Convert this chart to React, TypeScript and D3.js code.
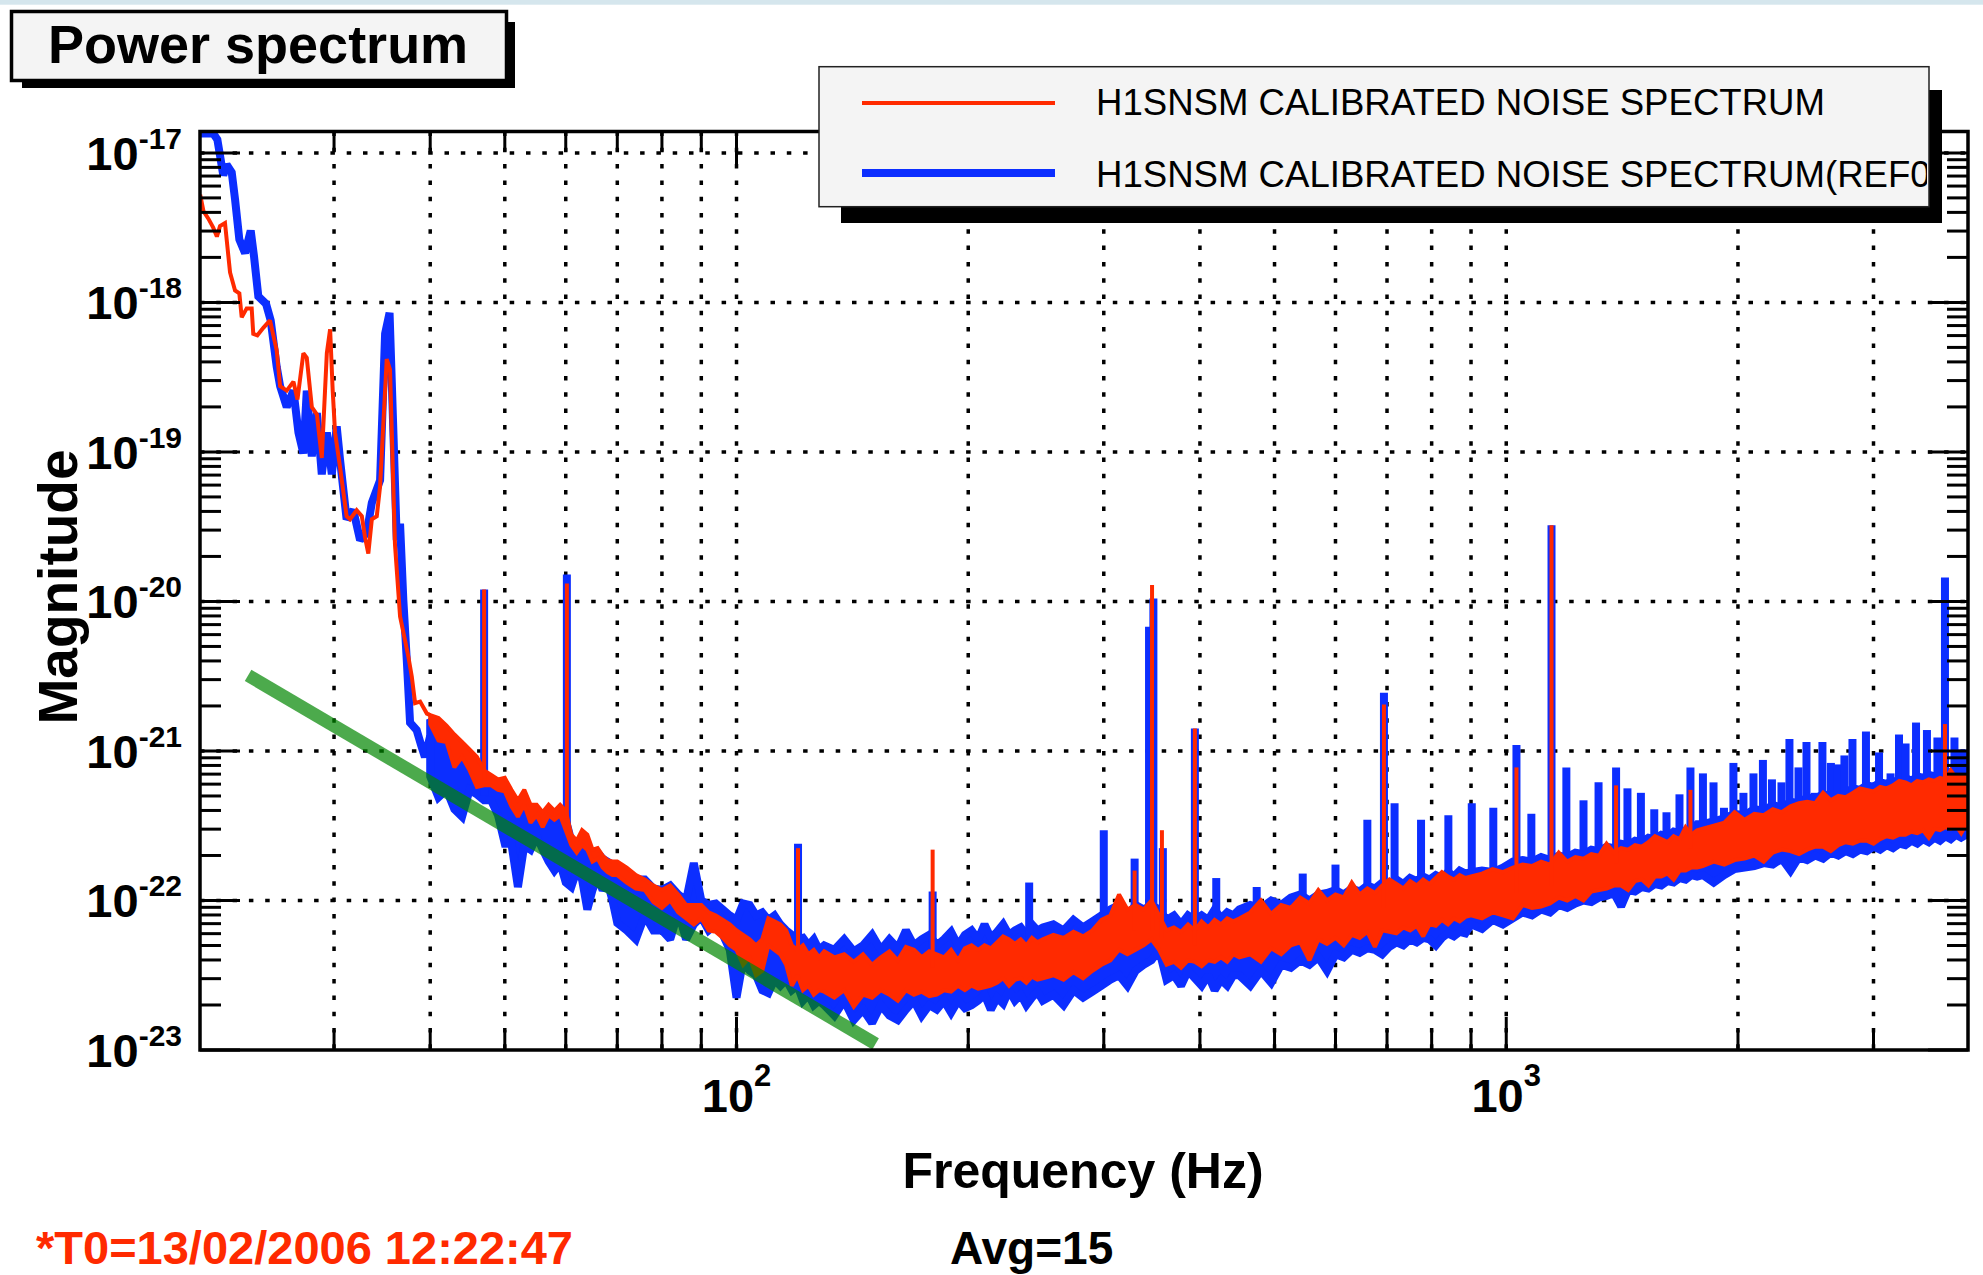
import React from "react";
import * as d3 from "d3";

// ---------------- data (magnitudes stored as log10 values) ----------------
const lowRedHz = [20.1,20.3,20.6,20.9,21.13,21.33,21.65,21.98,22.31,22.6,22.76,23.1,23.45,23.56,23.85,24.28,24.77,25.27,25.53,26.04,26.57,26.89,27.37,27.65,28.07,28.5,28.92,29.36,29.65,29.88,30.09,30.54,31.15,31.47,32.1,32.6,32.91,33.24,33.59,34.09,34.43,35.12,35.47,36.0,36.55,37.1,37.47,37.85,38.23,38.81,39.6,40.0];
const lowRedLog = [-17.28,-17.39,-17.44,-17.50,-17.56,-17.49,-17.47,-17.80,-17.92,-17.94,-18.10,-18.04,-18.04,-18.21,-18.22,-18.17,-18.12,-18.32,-18.56,-18.59,-18.53,-18.65,-18.34,-18.37,-18.70,-18.75,-19.04,-18.34,-18.18,-18.59,-18.87,-19.10,-19.43,-19.45,-19.39,-19.43,-19.57,-19.68,-19.45,-19.43,-19.23,-18.38,-18.45,-19.62,-20.10,-20.26,-20.37,-20.50,-20.68,-20.67,-20.75,-20.76];

const lowBlueHz = [20.1,20.9,21.16,21.54,21.76,22.09,22.31,22.6,22.99,23.38,23.61,23.92,24.48,24.82,25.27,25.53,26.04,26.57,26.97,27.37,27.65,28.07,28.5,28.92,29.36,29.8,30.24,30.54,31.15,31.78,32.43,33.09,33.59,34.43,34.95,35.42,35.83,36.19,36.55,36.91,37.29,37.66,38.41,38.92,39.37,40.0];
const lowBlueLog = [-16.87,-16.87,-16.91,-17.15,-17.08,-17.13,-17.31,-17.58,-17.67,-17.52,-17.69,-17.96,-18.01,-18.12,-18.43,-18.56,-18.70,-18.59,-18.87,-19.01,-18.59,-19.03,-18.74,-19.15,-18.87,-19.15,-18.83,-19.05,-19.45,-19.39,-19.59,-19.54,-19.34,-19.19,-18.21,-18.07,-18.87,-19.59,-19.48,-19.99,-20.39,-20.81,-20.86,-20.96,-21.04,-20.90];

const bandHz = [
  40,41,42,43,44,45,46,47,48,49,50,51,52,53,54,55,56,57,58,59,60,61,62,63,64,65,66,67,68,69,
  70,72,74,76,78,80,82,84,86,88,90,92,94,96,98,100,102,104,106,108,110,112,114,116,118,120,122,124,126,128,
  130,134,138,142,146,150,154,158,162,166,170,174,178,182,186,190,194,198,202,206,210,214,218,222,226,230,234,238,242,246,
  250,258,266,274,282,290,298,306,314,322,330,338,346,354,362,370,378,386,394,402,410,418,426,434,442,
  450,465,480,495,510,525,540,555,570,585,600,615,630,645,660,675,690,705,720,735,750,765,780,795,810,825,840,855,870,885,
  900,930,960,990,1020,1050,1080,1110,1140,1170,1200,1230,1260,1290,1320,1350,1380,1410,1440,1470,1500,1530,1560,1590,1620,1650,1680,1710,1740,1770,
  1800,1860,1920,1980,2040,2100,2160,2220,2280,2340,2400,2460,2520,2580,2640,2700,2760,2820,2880,2940,3000,3060,3120,3180,3240,3300,3360,3420,3480,3540,3600,3660,3720,3780,3840,3900,3960,3980
];

const redHiLog = [
  -20.76,-20.78,-20.83,-20.89,-20.94,-20.99,-21.04,-21.13,-21.16,-21.19,-21.18,-21.26,-21.33,-21.26,-21.36,-21.36,-21.41,-21.36,-21.40,-21.36,-21.40,-21.56,-21.60,-21.53,-21.56,-21.66,-21.65,-21.70,-21.73,-21.74,
  -21.74,-21.78,-21.83,-21.86,-21.90,-21.93,-21.90,-21.96,-22.03,-22.03,-22.03,-22.08,-22.10,-22.13,-22.16,-22.20,-22.23,-22.26,-22.30,-22.26,-22.12,-22.14,-22.16,-22.20,-22.30,-22.33,-22.30,-22.36,-22.33,-22.38,
  -22.34,-22.38,-22.36,-22.41,-22.36,-22.43,-22.38,-22.34,-22.40,-22.31,-22.33,-22.38,-22.34,-22.36,-22.38,-22.33,-22.40,-22.32,-22.30,-22.33,-22.30,-22.32,-22.28,-22.24,-22.26,-22.29,-22.26,-22.30,-22.25,-22.28,
  -22.26,-22.23,-22.25,-22.21,-22.24,-22.20,-22.13,-22.10,-21.96,-22.06,-22.03,-22.06,-22.00,-22.10,-22.20,-22.18,-22.21,-22.16,-22.20,-22.14,-22.18,-22.13,-22.16,-22.12,-22.14,
  -22.12,-22.08,-22.00,-22.09,-22.03,-22.05,-21.98,-22.02,-21.93,-22.00,-21.96,-21.98,-21.88,-21.96,-21.92,-21.95,-21.90,-21.86,-21.89,-21.92,-21.87,-21.90,-21.86,-21.89,-21.85,-21.81,-21.84,-21.86,-21.83,-21.85,
  -21.84,-21.82,-21.79,-21.81,-21.78,-21.76,-21.77,-21.74,-21.76,-21.68,-21.74,-21.71,-21.72,-21.69,-21.70,-21.62,-21.68,-21.65,-21.66,-21.63,-21.64,-21.61,-21.57,-21.59,-21.61,-21.57,-21.59,-21.51,-21.56,-21.53,
  -21.52,-21.50,-21.48,-21.41,-21.46,-21.42,-21.43,-21.39,-21.41,-21.37,-21.35,-21.34,-21.35,-21.28,-21.33,-21.30,-21.31,-21.28,-21.25,-21.26,-21.27,-21.24,-21.25,-21.23,-21.20,-21.21,-21.23,-21.20,-21.21,-21.19,-21.20,-21.18,-21.19,-21.13,-21.18,-21.16,-21.17,-21.18
];
const redLoLog = [
  -20.82,-20.93,-20.94,-21.11,-21.04,-21.13,-21.24,-21.23,-21.23,-21.26,-21.27,-21.37,-21.44,-21.36,-21.48,-21.43,-21.51,-21.43,-21.46,-21.43,-21.53,-21.63,-21.68,-21.63,-21.66,-21.74,-21.72,-21.78,-21.81,-21.83,
  -21.83,-21.88,-21.92,-21.93,-22.01,-22.05,-22.00,-22.08,-22.12,-22.16,-22.12,-22.20,-22.21,-22.25,-22.30,-22.33,-22.43,-22.38,-22.50,-22.47,-22.30,-22.33,-22.36,-22.43,-22.57,-22.50,-22.60,-22.57,-22.63,-22.60,
  -22.61,-22.65,-22.60,-22.71,-22.63,-22.65,-22.60,-22.63,-22.67,-22.60,-22.63,-22.61,-22.64,-22.63,-22.60,-22.61,-22.57,-22.60,-22.57,-22.59,-22.58,-22.57,-22.55,-22.52,-22.57,-22.53,-22.52,-22.55,-22.51,-22.53,
  -22.52,-22.50,-22.53,-22.48,-22.52,-22.47,-22.43,-22.40,-22.33,-22.36,-22.33,-22.30,-22.26,-22.33,-22.43,-22.41,-22.45,-22.40,-22.41,-22.44,-22.40,-22.41,-22.38,-22.41,-22.36,
  -22.38,-22.36,-22.41,-22.32,-22.36,-22.30,-22.28,-22.40,-22.26,-22.29,-22.25,-22.30,-22.23,-22.25,-22.21,-22.31,-22.20,-22.21,-22.22,-22.18,-22.20,-22.17,-22.24,-22.16,-22.17,-22.13,-22.16,-22.12,-22.14,-22.11,
  -22.10,-22.12,-22.08,-22.10,-22.12,-22.03,-22.05,-22.04,-22.02,-21.98,-22.00,-21.97,-22.00,-21.94,-21.93,-21.92,-21.90,-21.90,-21.93,-21.87,-21.86,-21.90,-21.84,-21.84,-21.82,-21.86,-21.80,-21.80,-21.78,-21.78,
  -21.77,-21.74,-21.76,-21.73,-21.72,-21.70,-21.74,-21.68,-21.66,-21.67,-21.69,-21.66,-21.64,-21.64,-21.67,-21.63,-21.61,-21.62,-21.60,-21.60,-21.62,-21.59,-21.57,-21.58,-21.56,-21.56,-21.54,-21.55,-21.53,-21.58,-21.52,-21.53,-21.51,-21.52,-21.50,-21.55,-21.49,-21.50
];
const blueHiLog = [
  -20.79,-20.86,-20.89,-20.96,-20.99,-21.03,-21.09,-21.16,-21.19,-21.23,-21.26,-21.33,-21.40,-21.36,-21.43,-21.43,-21.46,-21.43,-21.46,-21.43,-21.46,-21.60,-21.63,-21.60,-21.63,-21.70,-21.68,-21.72,-21.74,-21.76,
  -21.78,-21.83,-21.86,-21.86,-21.92,-21.93,-21.90,-21.96,-22.00,-21.75,-22.00,-22.03,-22.02,-22.06,-22.10,-22.13,-22.02,-22.03,-22.10,-22.08,-22.13,-22.10,-22.16,-22.20,-22.23,-22.26,-22.25,-22.30,-22.26,-22.33,
  -22.30,-22.33,-22.26,-22.34,-22.30,-22.23,-22.33,-22.26,-22.32,-22.20,-22.30,-22.26,-22.23,-22.30,-22.26,-22.21,-22.30,-22.23,-22.20,-22.26,-22.16,-22.25,-22.21,-22.16,-22.23,-22.20,-22.18,-22.23,-22.16,-22.20,
  -22.18,-22.16,-22.20,-22.13,-22.18,-22.14,-22.10,-22.06,-22.03,-22.10,-22.03,-22.06,-22.03,-22.06,-22.13,-22.10,-22.16,-22.10,-22.13,-22.10,-22.13,-22.06,-22.12,-22.08,-22.10,
  -22.06,-22.03,-22.05,-22.00,-22.03,-21.98,-21.96,-22.00,-21.96,-21.95,-21.93,-21.96,-21.92,-21.94,-21.90,-21.92,-21.88,-21.90,-21.86,-21.89,-21.85,-21.87,-21.84,-21.86,-21.83,-21.85,-21.81,-21.84,-21.80,-21.82,
  -21.81,-21.80,-21.81,-21.78,-21.74,-21.73,-21.74,-21.71,-21.73,-21.70,-21.71,-21.68,-21.69,-21.66,-21.67,-21.64,-21.65,-21.62,-21.63,-21.60,-21.61,-21.58,-21.59,-21.56,-21.57,-21.54,-21.55,-21.53,-21.53,-21.49,
  -21.49,-21.47,-21.45,-21.42,-21.43,-21.39,-21.40,-21.36,-21.38,-21.34,-21.35,-21.31,-21.32,-21.29,-21.30,-21.27,-21.28,-21.25,-21.26,-21.23,-21.24,-21.21,-21.22,-21.20,-21.21,-21.18,-21.20,-21.17,-21.18,-21.16,-21.17,-21.15,-21.16,-21.14,-21.15,-21.13,-21.14,-21.15
];
const blueLoLog = [
  -21.17,-21.31,-21.26,-21.39,-21.44,-21.26,-21.29,-21.33,-21.33,-21.43,-21.62,-21.62,-21.91,-21.63,-21.66,-21.57,-21.66,-21.74,-21.80,-21.75,-21.88,-21.91,-21.80,-21.86,-22.06,-21.93,-21.84,-21.93,-21.88,-22.00,
  -22.15,-22.20,-22.26,-22.10,-22.20,-22.20,-22.26,-22.08,-22.26,-22.16,-22.11,-22.20,-22.16,-22.23,-22.33,-22.65,-22.40,-22.47,-22.50,-22.60,-22.62,-22.53,-22.57,-22.53,-22.60,-22.57,-22.67,-22.63,-22.70,-22.67,
  -22.70,-22.77,-22.67,-22.80,-22.73,-22.82,-22.70,-22.77,-22.80,-22.73,-22.67,-22.77,-22.70,-22.73,-22.67,-22.75,-22.67,-22.72,-22.70,-22.67,-22.63,-22.73,-22.65,-22.69,-22.60,-22.67,-22.63,-22.70,-22.65,-22.61,
  -22.67,-22.63,-22.70,-22.60,-22.65,-22.61,-22.57,-22.53,-22.50,-22.57,-22.47,-22.43,-22.40,-22.33,-22.53,-22.50,-22.57,-22.47,-22.52,-22.57,-22.50,-22.60,-22.53,-22.57,-22.50,
  -22.50,-22.57,-22.47,-22.55,-22.43,-22.45,-22.40,-22.43,-22.38,-22.47,-22.36,-22.38,-22.33,-22.35,-22.32,-22.33,-22.36,-22.31,-22.28,-22.30,-22.26,-22.28,-22.25,-22.26,-22.30,-22.25,-22.22,-22.24,-22.21,-22.22,
  -22.16,-22.19,-22.13,-22.16,-22.12,-22.08,-22.10,-22.06,-22.08,-22.03,-22.05,-22.02,-22.00,-22.01,-21.98,-21.97,-21.95,-22.04,-21.93,-21.94,-21.91,-21.92,-21.89,-21.90,-21.87,-21.88,-21.85,-21.86,-21.83,-21.84,
  -21.83,-21.88,-21.83,-21.79,-21.78,-21.77,-21.75,-21.76,-21.72,-21.80,-21.71,-21.73,-21.70,-21.72,-21.68,-21.70,-21.67,-21.69,-21.66,-21.67,-21.64,-21.66,-21.63,-21.65,-21.62,-21.63,-21.60,-21.62,-21.59,-21.61,-21.58,-21.60,-21.57,-21.59,-21.56,-21.58,-21.56,-21.57
];

// narrow spectral lines (drawn as vertical strokes)
const redSpikeHz = [47, 60.2, 120.2, 179.8, 329, 346.6, 357, 394, 693.6, 1031, 1145, 1389, 1735, 3715];
const redSpikeBaseLog = [-21.2, -21.45, -22.4, -22.45, -22.2, -22.2, -22.25, -22.3, -22.05, -21.95, -21.9, -21.75, -21.65, -21.35];
const redSpikeTopLog = [-19.92, -19.88, -21.65, -21.66, -21.80, -19.89, -21.53, -20.85, -20.69, -21.11, -19.49, -21.23, -21.26, -20.82];

const blueSpikeHz = [47,60.2,120.2,179.8,240,300,329,343.5,348,358,394,420,474,544,600,660,693.6,716,775,841,902,962,1031,1078,1145,1197,1260,1318,1389,1437,1496,1557,1615,1679,1735,1801,1859,1918,1973,2033,2095,2155,2214,2278,2333,2397,2455,2518,2575,2641,2693,2750,2817,2933,3050,3157,3238,3302,3407,3520,3632,3715,3822,3897,3950];
const blueSpikeBaseLog = [-21.3,-21.6,-22.4,-22.45,-22.4,-22.3,-22.25,-22.2,-22.2,-22.2,-22.3,-22.3,-22.25,-22.2,-22.15,-22.1,-22.1,-22.05,-22.05,-22.0,-21.95,-21.95,-21.95,-21.9,-21.9,-21.85,-21.85,-21.8,-21.8,-21.8,-21.75,-21.75,-21.7,-21.7,-21.7,-21.65,-21.65,-21.6,-21.6,-21.6,-21.55,-21.55,-21.55,-21.5,-21.5,-21.5,-21.5,-21.45,-21.45,-21.45,-21.45,-21.4,-21.4,-21.4,-21.35,-21.35,-21.35,-21.35,-21.3,-21.3,-21.3,-21.3,-21.3,-21.3,-21.3];
const blueSpikeTopLog = [-19.92,-19.82,-21.62,-21.94,-21.88,-21.53,-21.72,-20.17,-19.98,-21.65,-20.85,-21.85,-21.91,-21.82,-21.76,-21.46,-20.61,-21.35,-21.46,-21.43,-21.35,-21.38,-20.96,-21.42,-19.49,-21.11,-21.33,-21.21,-21.11,-21.25,-21.28,-21.39,-21.41,-21.29,-21.11,-21.15,-21.21,-21.38,-21.08,-21.28,-21.15,-21.06,-21.19,-21.21,-20.92,-21.11,-20.94,-21.28,-20.94,-21.08,-21.09,-21.03,-20.92,-20.87,-21.01,-21.15,-20.89,-20.95,-20.81,-20.86,-20.91,-19.84,-20.91,-20.99,-20.99];

// green reference slope
const fitHz = [23.2, 151.6];
const fitMag = [3.2e-21, 1.1e-23];

const legendLabels = ["H1SNSM CALIBRATED NOISE SPECTRUM", "H1SNSM CALIBRATED NOISE SPECTRUM(REF0)"];
const titleText = "Power spectrum";
const xTitle = "Frequency (Hz)";
const yTitle = "Magnitude";
const startText = "*T0=13/02/2006 12:22:47";
const avgText = "Avg=15";

const RED = "#ff2a00";
const BLUE = "#0c2eff";
const FONT = "'Liberation Sans', Arial, Helvetica, sans-serif";

export default function App() {
  const L = 200, R = 1968, T = 131.5, B = 1050;
  const x = d3.scaleLog().domain([20.09, 3980]).range([L, R]);
  const y = d3.scaleLog().domain([1e-23, 1.39e-17]).range([B, T]);
  const p = (v: number) => Math.pow(10, v);

  const line = d3.line<number[]>().x((d) => x(d[0])).y((d) => y(d[1]));
  const area = d3
    .area<number[]>()
    .x((d) => x(d[0]))
    .y0((d) => y(d[2]))
    .y1((d) => y(d[1]));

  const pairs = (hz: number[], lg: number[]) =>
    hz.slice(0, Math.min(hz.length, lg.length)).map((f, i) => [f, p(lg[i])]);
  const band = (hi: number[], lo: number[]) => {
    const n = Math.min(bandHz.length, hi.length, lo.length);
    return bandHz.slice(0, n).map((f, i) => [f, p(hi[i]), p(lo[i])]);
  };
  const spikes = (hz: number[], base: number[], top: number[]) => {
    const n = Math.min(hz.length, base.length, top.length);
    return hz.slice(0, n).map((f, i) => ({ f, b: p(base[i]), t: p(top[i]) }));
  };

  const xTicks = x.ticks();
  const yTicks = y.ticks();
  const isMajor = (v: number) => Math.abs(Math.log10(v) - Math.round(Math.log10(v))) < 1e-6;

  const gridStyle = { stroke: "#000", strokeWidth: 3.5, strokeDasharray: "4.5 11.8" };

  return (
    <svg
      width={1983}
      height={1275}
      viewBox="0 0 1983 1275"
      style={{ position: "absolute", left: 0, top: 0, display: "block", background: "#fff" }}
      fontFamily={FONT}
    >
      <defs>
        <clipPath id="plotClip">
          <rect x={L} y={T} width={R - L} height={B - T} />
        </clipPath>
        <clipPath id="legClip">
          <rect x={819} y={66.7} width={1108} height={140} />
        </clipPath>
      </defs>
      <rect x={0} y={0} width={1983} height={1275} fill="#fff" />
      <rect x={0} y={0} width={1983} height={4.7} fill="#d5e6ed" />

      {/* grid */}
      <g>
        {xTicks.map((v, i) => (
          <line key={"gx" + i} x1={x(v)} x2={x(v)} y1={T} y2={B} {...gridStyle} />
        ))}
        {yTicks.filter(isMajor).filter((v) => v > 1.5e-23).map((v, i) => (
          <line key={"gy" + i} x1={L} x2={R} y1={y(v)} y2={y(v)} {...gridStyle} />
        ))}
      </g>

      {/* data */}
      <g clipPath="url(#plotClip)">
        <path d={line(pairs(lowBlueHz, lowBlueLog)) || ""} fill="none" stroke={BLUE} strokeWidth={8} strokeLinejoin="miter" strokeMiterlimit={2} />
        <path d={area(band(blueHiLog, blueLoLog)) || ""} fill={BLUE} stroke={BLUE} strokeWidth={8} strokeLinejoin="miter" strokeMiterlimit={2} />
        {spikes(blueSpikeHz, blueSpikeBaseLog, blueSpikeTopLog).map((s, i) => (
          <line key={"bs" + i} x1={x(s.f)} x2={x(s.f)} y1={y(s.b)} y2={y(s.t)} stroke={BLUE} strokeWidth={8} strokeLinecap="butt" />
        ))}
        <path d={line(pairs(lowRedHz, lowRedLog)) || ""} fill="none" stroke={RED} strokeWidth={4} strokeLinejoin="miter" strokeMiterlimit={2} />
        <path d={area(band(redHiLog, redLoLog)) || ""} fill={RED} stroke={RED} strokeWidth={4} strokeLinejoin="miter" strokeMiterlimit={2} />
        {spikes(redSpikeHz, redSpikeBaseLog, redSpikeTopLog).map((s, i) => (
          <line key={"rs" + i} x1={x(s.f)} x2={x(s.f)} y1={y(s.b)} y2={y(s.t)} stroke={RED} strokeWidth={4} strokeLinecap="butt" />
        ))}
        <path
          d={line(fitHz.map((f, i) => [f, fitMag[i]])) || ""}
          fill="none"
          stroke="#008600"
          strokeOpacity={0.7}
          strokeWidth={13}
          strokeLinecap="butt"
        />
      </g>

      {/* frame */}
      <rect x={L} y={T} width={R - L} height={B - T} fill="none" stroke="#000" strokeWidth={3.5} />

      {/* ticks */}
      <g stroke="#000" strokeWidth={3}>
        {xTicks.map((v, i) => {
          const len = isMajor(v) ? 33 : 20;
          return (
            <g key={"tx" + i}>
              <line x1={x(v)} x2={x(v)} y1={B} y2={B - len} />
              <line x1={x(v)} x2={x(v)} y1={T} y2={T + len} />
            </g>
          );
        })}
        {yTicks.map((v, i) => {
          const len = isMajor(v) ? 40 : 21;
          return (
            <g key={"ty" + i}>
              <line x1={L} x2={L + len} y1={y(v)} y2={y(v)} />
              <line x1={R} x2={R - len} y1={y(v)} y2={y(v)} />
            </g>
          );
        })}
      </g>

      {/* tick labels */}
      <g fontWeight="bold" fill="#000">
        {yTicks.filter(isMajor).map((v, i) => (
          <text key={"ly" + i} x={182} y={y(v) + 17} textAnchor="end" fontSize={47}>
            10
            <tspan dy={-21} fontSize={30}>{String(Math.round(Math.log10(v)))}</tspan>
          </text>
        ))}
        {xTicks.filter(isMajor).map((v, i) => (
          <text key={"lx" + i} x={x(v)} y={1112} textAnchor="middle" fontSize={47}>
            10
            <tspan dy={-26} fontSize={31}>{String(Math.round(Math.log10(v)))}</tspan>
          </text>
        ))}
      </g>

      {/* axis titles */}
      <text x={1083} y={1188} textAnchor="middle" fontSize={50} fontWeight="bold">{xTitle}</text>
      <text transform="translate(77,587) rotate(-90)" textAnchor="middle" fontSize={55} fontWeight="bold">{yTitle}</text>

      {/* title box */}
      <rect x={22} y={22} width={493} height={66} fill="#000" />
      <rect x={11.5} y={11.5} width={495} height={69} fill="#f4f4f4" stroke="#000" strokeWidth={3.5} />
      <text x={48} y={63} fontSize={54} fontWeight="bold">{titleText}</text>

      {/* legend */}
      <rect x={841} y={90} width={1101} height={133} fill="#000" />
      <rect x={819} y={66.7} width={1110} height={140} fill="#f4f4f4" stroke="#222" strokeWidth={1.5} />
      <line x1={862} x2={1055} y1={103} y2={103} stroke={RED} strokeWidth={4} />
      <line x1={862} x2={1055} y1={173} y2={173} stroke={BLUE} strokeWidth={8} />
      <g clipPath="url(#legClip)">
        <text x={1096} y={115} fontSize={36.6}>{legendLabels[0]}</text>
        <text x={1096} y={187} fontSize={36.6}>{legendLabels[1]}</text>
      </g>

      {/* footer */}
      <text x={36} y={1264} fontSize={47} fontWeight="bold" fill={RED}>{startText}</text>
      <text x={950} y={1264} fontSize={46} fontWeight="bold">{avgText}</text>
    </svg>
  );
}
